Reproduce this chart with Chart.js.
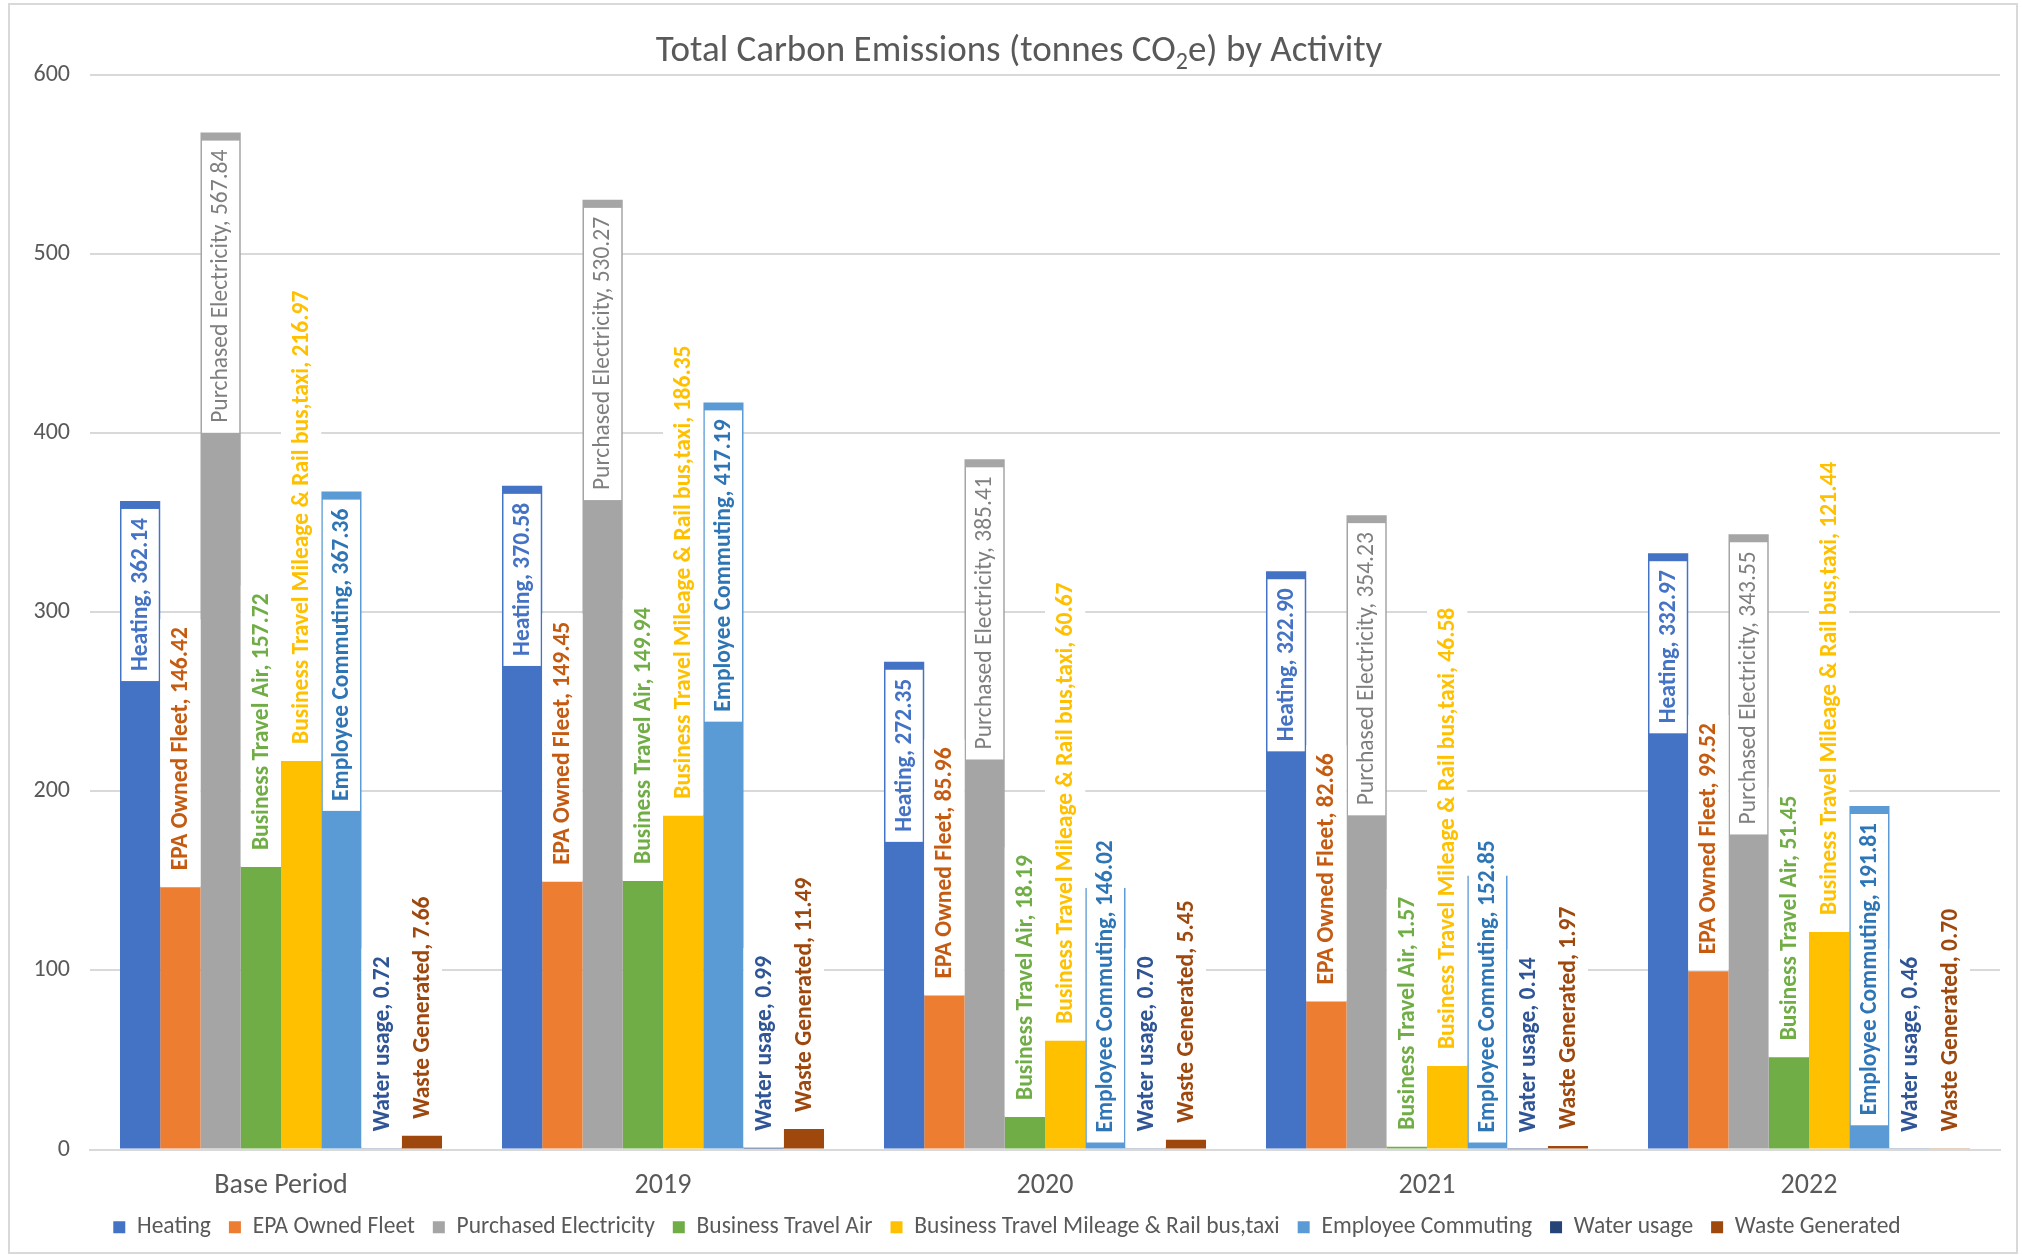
<!DOCTYPE html>
<html>
<head>
<meta charset="utf-8">
<title>Total Carbon Emissions by Activity</title>
<script src="https://cdn.jsdelivr.net/npm/chart.js@4.4.1/dist/chart.umd.min.js"></script>
<style>
  html, body { margin: 0; padding: 0; background: #fff; }
  #wrap { width: 2022px; height: 1255px; position: relative; }
</style>
</head>
<body>
<div id="wrap"><canvas id="chartEmissions" width="2022" height="1255"></canvas></div>
<script>
// ---- data (tonnes CO2e) ----
const periods = ['Base Period', '2019', '2020', '2021', '2022'];
const activities = [
  'Heating', 'EPA Owned Fleet', 'Purchased Electricity', 'Business Travel Air',
  'Business Travel Mileage & Rail bus,taxi', 'Employee Commuting', 'Water usage', 'Waste Generated'
];
const heating    = [362.14, 370.58, 272.35, 322.90, 332.97];
const fleet      = [146.42, 149.45, 85.96, 82.66, 99.52];
const electicity = [567.84, 530.27, 385.41, 354.23, 343.55];
const travelAir  = [157.72, 149.94, 18.19, 1.57, 51.45];
const mileage    = [216.97, 186.35, 60.67, 46.58, 121.44];
const commuting  = [367.36, 417.19, 146.02, 152.85, 191.81];
const water      = [0.72, 0.99, 0.70, 0.14, 0.46];
const waste      = [7.66, 11.49, 5.45, 1.97, 0.70];
const yTicks     = [0, 100, 200, 300, 400, 500, 600];
const titleParts = ['Total Carbon Emissions (tonnes CO', '2', 'e) by Activity'];

// ---- styling ----
const FONT = 'Carlito, Calibri, Lato, sans-serif';
const barColors   = ['#4472C4', '#ED7D31', '#A5A5A5', '#70AD47', '#FFC000', '#5B9BD5', '#264478', '#9E480E'];
const labelColors = ['#4472C4', '#C55A11', '#7F7F7F', '#70AD47', '#FFC000', '#2E75B6', '#2F5597', '#9E480E'];
const labelBold   = [true, true, false, true, true, true, true, true];
const insideEnd   = [0, 2, 5]; // series whose labels sit inside the top of the bar
const LABEL_SIZE = 23.5;

const series = [heating, fleet, electicity, travelAir, mileage, commuting, water, waste];

// white chart area + light frame
const frame = {
  id: 'frame',
  beforeDraw(chart) {
    const ctx = chart.ctx;
    ctx.save();
    ctx.fillStyle = '#fff';
    ctx.fillRect(0, 0, chart.width, chart.height);
    ctx.strokeStyle = '#D9D9D9';
    ctx.lineWidth = 2;
    ctx.strokeRect(9, 4, chart.width - 14, chart.height - 6);
    ctx.restore();
  }
};

// title with subscript "2"
const subTitle = {
  id: 'subTitle',
  afterDraw(chart) {
    const ctx = chart.ctx;
    const big = '37px ' + FONT, small = '24px ' + FONT;
    ctx.save();
    ctx.fillStyle = '#595959';
    ctx.textBaseline = 'middle';
    ctx.font = big;
    const w0 = ctx.measureText(titleParts[0]).width;
    const w2 = ctx.measureText(titleParts[2]).width;
    ctx.font = small;
    const w1 = ctx.measureText(titleParts[1]).width;
    let x = chart.width / 2 + 8 - (w0 + w1 + w2) / 2;
    const y = 52;
    ctx.font = big;
    ctx.fillText(titleParts[0], x, y);
    x += w0;
    ctx.font = small;
    ctx.fillText(titleParts[1], x, y + 11);
    x += w1;
    ctx.font = big;
    ctx.fillText(titleParts[2], x, y);
    ctx.restore();
  }
};

// rotated "Series, value" labels, Excel style
const barLabels = {
  id: 'barLabels',
  afterDatasetsDraw(chart) {
    const ctx = chart.ctx;
    const base = chart.scales.y.getPixelForValue(0);
    ctx.save();
    chart.data.datasets.forEach((ds, di) => {
      const meta = chart.getDatasetMeta(di);
      ctx.font = (labelBold[di] ? 'bold ' : '') + LABEL_SIZE + 'px ' + FONT;
      meta.data.forEach((bar, i) => {
        const text = ds.label + ', ' + ds.data[i].toFixed(2);
        const len = ctx.measureText(text).width;
        const top = bar.y;
        const left = bar.x - bar.width / 2;
        let start, end;
        if (insideEnd.includes(di)) {
          // anchored under the bar top; slides down to the base when the bar is short
          end = top + 17;
          start = end + len;
          if (start > base - 17) { start = base - 17; end = start - len; }
          const bTop = end - 9;
          const bBot = Math.min(start + 10, base - 6);
          ctx.fillStyle = '#fff';
          ctx.fillRect(left + 1.5, bTop, bar.width - 3, bBot - bTop);
        } else {
          start = top - 17;
          end = start - len;
          ctx.fillStyle = '#fff';
          ctx.fillRect(left, end - 8, bar.width, top - 1 - (end - 8));
        }
        ctx.save();
        ctx.translate(bar.x + 1, start);
        ctx.rotate(-Math.PI / 2);
        ctx.textAlign = 'left';
        ctx.textBaseline = 'middle';
        ctx.fillStyle = labelColors[di];
        ctx.fillText(text, 0, 0);
        ctx.restore();
      });
    });
    ctx.restore();
  }
};

new Chart(document.getElementById('chartEmissions'), {
  type: 'bar',
  data: {
    labels: periods,
    datasets: activities.map((name, k) => ({
      label: name,
      data: series[k],
      backgroundColor: barColors[k],
      borderWidth: 0,
      categoryPercentage: 0.843,
      barPercentage: 1.0
    }))
  },
  options: {
    responsive: false,
    animation: false,
    devicePixelRatio: 1,
    layout: { padding: { top: 75, right: 22, left: 14, bottom: 6 } },
    plugins: {
      title: { display: false },
      tooltip: { enabled: false },
      legend: {
        position: 'bottom',
        labels: {
          boxWidth: 12, boxHeight: 12, padding: 18,
          color: '#595959',
          font: { family: FONT, size: 23.5 }
        }
      }
    },
    scales: {
      x: {
        grid: { display: false, drawTicks: false },
        border: { color: '#D9D9D9', width: 2 },
        ticks: { color: '#595959', font: { family: FONT, size: 28 }, padding: 20 },
        afterFit(s) { s.height = 48; }
      },
      y: {
        min: 0, max: 600,
        afterBuildTicks(s) { s.ticks = yTicks.map(v => ({ value: v })); },
        grid: { color: '#D9D9D9', lineWidth: 2, drawTicks: false },
        border: { display: false },
        ticks: { color: '#595959', font: { family: FONT, size: 24 }, padding: 20 },
        afterFit(s) { s.width = 76; }
      }
    }
  },
  plugins: [frame, subTitle, barLabels]
});
</script>
</body>
</html>
